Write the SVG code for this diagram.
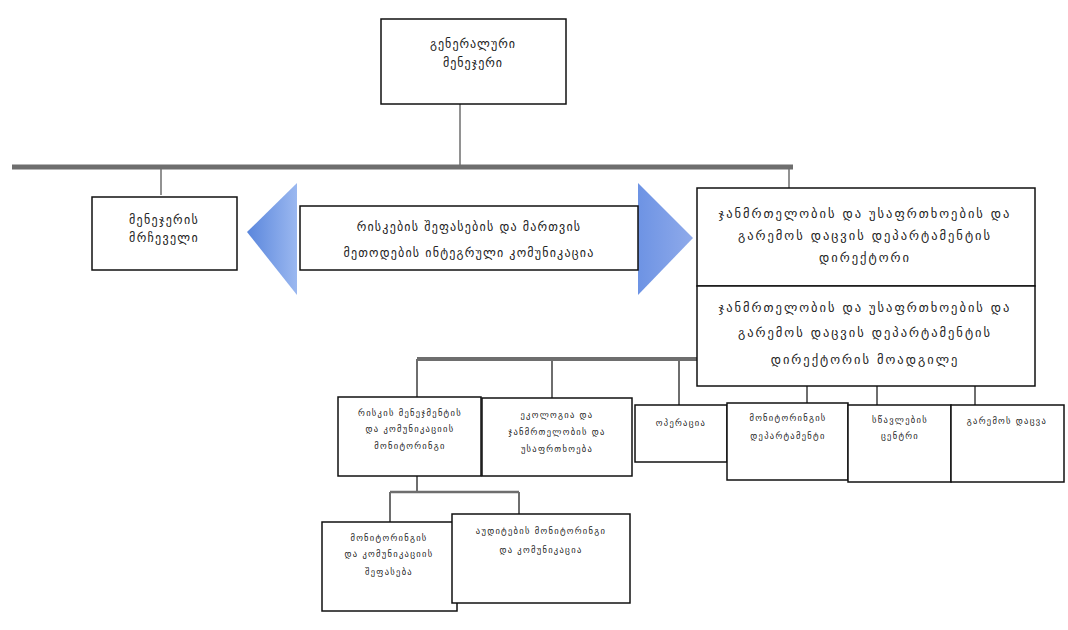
<svg xmlns="http://www.w3.org/2000/svg" width="1068" height="630" viewBox="0 0 1068 630">
<defs>
<linearGradient id="gl" x1="0" y1="0" x2="1" y2="0">
<stop offset="0" stop-color="#5a86dc"/><stop offset="1" stop-color="#9bb8f0"/>
</linearGradient>
<linearGradient id="gr" x1="0" y1="0" x2="1" y2="0">
<stop offset="0" stop-color="#6d93e4"/><stop offset="1" stop-color="#8faaea"/>
</linearGradient>
</defs>
<style>
.box{fill:#ffffff;stroke:#111;stroke-width:1.5}
.t{font-family:"DejaVu Sans",sans-serif;fill:#222;text-anchor:middle}
.s{font-size:8.5px;letter-spacing:1.3px}
.m{font-size:12.5px;letter-spacing:2px}
.c{stroke:#6e6e6e;fill:none}
</style>
<rect x="0" y="0" width="1068" height="630" fill="#ffffff"/>
<g id="connectors">
<line class="c" x1="460" y1="104" x2="460" y2="167" stroke-width="1.5"/>
<line class="c" x1="12" y1="167" x2="793" y2="167" stroke-width="5"/>
<line class="c" x1="161" y1="167" x2="161" y2="195" stroke-width="1.5"/>
<line class="c" x1="789" y1="167" x2="789" y2="188" stroke-width="1.5"/>
<line class="c" x1="417" y1="359" x2="697" y2="359" stroke-width="4"/>
<line class="c" x1="417" y1="359" x2="417" y2="397" stroke-width="2"/>
<line class="c" x1="552" y1="359" x2="552" y2="398" stroke-width="2"/>
<line class="c" x1="679" y1="359" x2="679" y2="405" stroke-width="2"/>
<line class="c" x1="807" y1="386" x2="807" y2="403" stroke-width="2"/>
<line class="c" x1="877" y1="386" x2="877" y2="405" stroke-width="2"/>
<line class="c" x1="975" y1="386" x2="975" y2="405" stroke-width="2"/>
<line class="c" x1="417" y1="476" x2="417" y2="492" stroke-width="2"/>
<line class="c" x1="390" y1="492" x2="519" y2="492" stroke-width="2.5"/>
<line class="c" x1="390" y1="492" x2="390" y2="522" stroke-width="2"/>
<line class="c" x1="519" y1="492" x2="519" y2="514" stroke-width="2"/>
</g>
<g id="arrow-left"><polygon points="247,232 297,183 297,295" fill="url(#gl)"/></g>
<g id="arrow-right"><polygon points="638,183 693,238 638,295" fill="url(#gr)"/></g>
<g id="n-general">
<rect class="box" x="381" y="19" width="185" height="85"/>
<text class="t" x="473" y="48" font-size="12" letter-spacing="1">გენერალური</text>
<text class="t" x="473" y="67" font-size="12" letter-spacing="1">მენეჯერი</text>
</g>
<g id="n-advisor">
<rect class="box" x="92" y="197" width="145" height="73"/>
<text class="t" x="164" y="224" font-size="12" letter-spacing="1.3">მენეჯერის</text>
<text class="t" x="164" y="242" font-size="12" letter-spacing="1.3">მრჩეველი</text>
</g>
<g id="n-risk">
<rect class="box" x="300" y="206" width="338" height="64"/>
<text class="t" x="469" y="231" font-size="12" letter-spacing="1.2">რისკების შეფასების და მართვის</text>
<text class="t" x="469" y="257" font-size="12" letter-spacing="1.2">მეთოდების ინტეგრული კომუნიკაცია</text>
</g>
<g id="n-director">
<rect class="box" x="697" y="188" width="338" height="98"/>
<text class="t m" x="865" y="218">ჯანმრთელობის და უსაფრთხოების და</text>
<text class="t m" x="865" y="240">გარემოს დაცვის დეპარტამენტის</text>
<text class="t m" x="865" y="262">დირექტორი</text>
</g>
<g id="n-deputy">
<rect class="box" x="697" y="286" width="338" height="100"/>
<text class="t m" x="865" y="312">ჯანმრთელობის და უსაფრთხოების და</text>
<text class="t m" x="865" y="337">გარემოს დაცვის დეპარტამენტის</text>
<text class="t m" x="865" y="364">დირექტორის მოადგილე</text>
</g>
<g id="n-a">
<rect class="box" x="338" y="397" width="143" height="79"/>
<text class="t s" x="410" y="416">რისკის მენეჯმენტის</text>
<text class="t s" x="410" y="432">და კომუნიკაციის</text>
<text class="t s" x="410" y="449">მონიტორინგი</text>
</g>
<g id="n-b">
<rect class="box" x="482" y="398" width="150" height="78"/>
<text class="t s" x="557" y="418">ეკოლოგია და</text>
<text class="t s" x="557" y="435">ჯანმრთელობის და</text>
<text class="t s" x="557" y="452">უსაფრთხოება</text>
</g>
<g id="n-c">
<rect class="box" x="635" y="405" width="92" height="57"/>
<text class="t s" x="681" y="426">ოპერაცია</text>
</g>
<g id="n-d">
<rect class="box" x="727" y="403" width="121" height="77"/>
<text class="t s" x="788" y="421">მონიტორინგის</text>
<text class="t s" x="788" y="439">დეპარტამენტი</text>
</g>
<g id="n-e">
<rect class="box" x="848" y="405" width="103" height="77"/>
<text class="t s" x="900" y="423">სწავლების</text>
<text class="t s" x="900" y="439">ცენტრი</text>
</g>
<g id="n-f">
<rect class="box" x="951" y="405" width="113" height="77"/>
<text class="t s" x="1007" y="424">გარემოს დაცვა</text>
</g>
<g id="n-c1">
<rect class="box" x="322" y="522" width="135" height="89"/>
<text class="t s" x="389" y="541">მონიტორინგის</text>
<text class="t s" x="389" y="557">და კომუნიკაციის</text>
<text class="t s" x="389" y="575">შეფასება</text>
</g>
<g id="n-c2">
<rect class="box" x="452" y="514" width="178" height="89"/>
<text class="t s" x="541" y="534">აუდიტების მონიტორინგი</text>
<text class="t s" x="541" y="553">და კომუნიკაცია</text>
</g>
</svg>
